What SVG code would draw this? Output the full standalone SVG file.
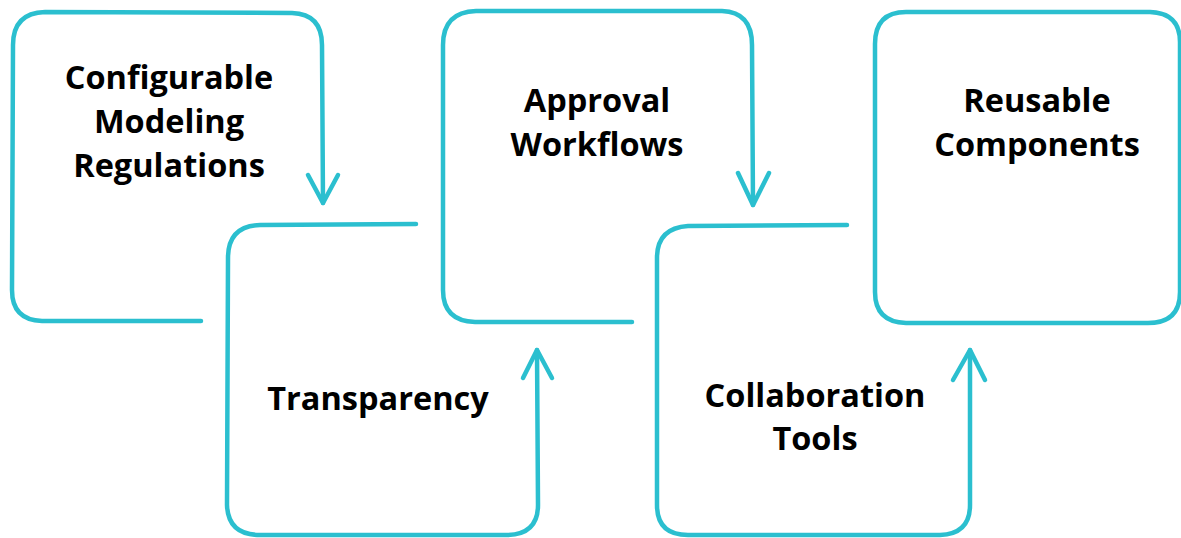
<svg xmlns="http://www.w3.org/2000/svg" width="1181" height="538" viewBox="0 0 1181 538">
<style>
.s{fill:none;stroke:#2bbfcf;stroke-width:4.5;stroke-linecap:round;stroke-linejoin:round}
.t{font-family:"Open Sans","Noto Sans","Liberation Sans",sans-serif;font-weight:700;font-size:32.5px;fill:#000;text-anchor:middle}
</style>
<rect width="1181" height="538" fill="#fff"/>
<g id="node1">
<path class="s" d="M201,321 L42,321 Q12,320 12,290 L13,45 Q13,13 45,12 L292,13 Q322,14 322,45 L323,203"/>
<text class="t" x="169" y="89">Configurable</text>
<text class="t" x="169" y="133">Modeling</text>
<text class="t" x="169" y="177">Regulations</text>
</g>
<g id="node2">
<path class="s" d="M416,224 L260,225 Q228,226 228,258 L227,505 Q228,535 260,535 L508,535 Q538,534 538,505 L537,350"/>
<text class="t" x="378" y="410">Transparency</text>
</g>
<g id="node3">
<path class="s" d="M632,322 L475,322 Q443,321 443,290 L443,45 Q443,12 476,11 L722,11 Q752,12 752,45 L753,205"/>
<text class="t" x="597" y="112">Approval</text>
<text class="t" x="597" y="156">Workflows</text>
</g>
<g id="node4">
<path class="s" d="M847,225 L688,226 Q657,228 657,258 L657,505 Q657,535 688,535 L940,535 Q970,534 970,505 L970,350"/>
<text class="t" x="815" y="407">Collaboration</text>
<text class="t" x="815" y="450">Tools</text>
</g>
<g id="node5">
<path class="s" d="M906,12 L1150,12 Q1180,13 1180,42 L1180,292 Q1180,323 1148,323 L906,323 Q875,322 875,292 L875,44 Q875,12 906,12 Z"/>
<text class="t" x="1037" y="112">Reusable</text>
<text class="t" x="1037" y="156">Components</text>
</g>
<g id="connectors">
<path class="s" d="M308,175 L323,203 L338,175"/>
<path class="s" d="M523,378 L537,350 L552,378"/>
<path class="s" d="M738,173 L753,205 L769,173"/>
<path class="s" d="M953,380 L970,350 L985,380"/>
</g>
</svg>
